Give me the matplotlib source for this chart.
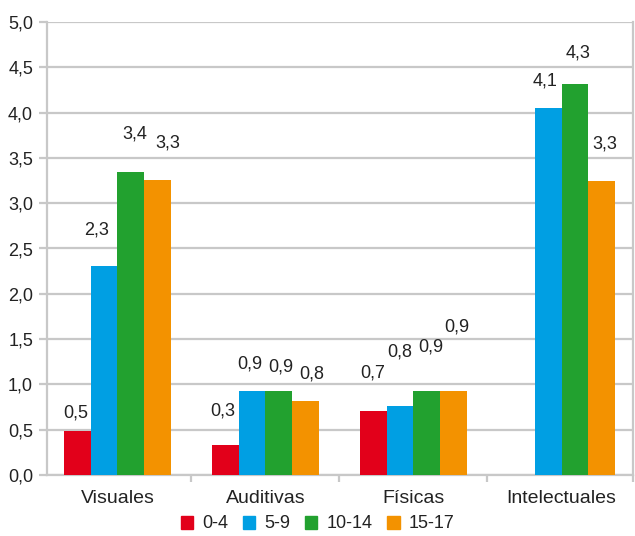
import numpy as np
import matplotlib
matplotlib.use("Agg")
import matplotlib.pyplot as plt
from matplotlib.ticker import FuncFormatter, FixedLocator
import matplotlib.patches as mpatches

# Data
categories = ["Visuales", "Auditivas", "Físicas", "Intelectuales"]
series = ["0-4", "5-9", "10-14", "15-17"]
v_0_4 = [0.49, 0.33, 0.71, None]
v_5_9 = [2.31, 0.93, 0.76, 4.05]
v_10_14 = [3.34, 0.93, 0.93, 4.32]
v_15_17 = [3.26, 0.82, 0.93, 3.25]
labels_0_4 = ["0,5", "0,3", "0,7", None]
labels_5_9 = ["2,3", "0,9", "0,8", "4,1"]
labels_10_14 = ["3,4", "0,9", "0,9", "4,3"]
labels_15_17 = ["3,3", "0,8", "0,9", "3,3"]

# label offsets (pixels) from the top centre of each bar, as hand-placed in the original
offsets_0_4 = [(-1.5, 18), (-3, 34), (-1, 38), None]
offsets_5_9 = [(-7, 36), (-2, 27), (0, 54), (-3.5, 27)]
offsets_10_14 = [(4, 38), (1.5, 24), (3.5, 44), (3, 31)]
offsets_15_17 = [(10, 37), (6.5, 27), (3.5, 64), (3, 37)]

colors = ["#e2001a", "#009fe3", "#22a12f", "#f39200"]
grid_col = "#c8c8c8"
text_col = "#222222"
font = ["Liberation Sans", "DejaVu Sans"]

plt.rcParams["font.family"] = font

values = [v_0_4, v_5_9, v_10_14, v_15_17]
labels = [labels_0_4, labels_5_9, labels_10_14, labels_15_17]
offsets = [offsets_0_4, offsets_5_9, offsets_10_14, offsets_15_17]

fig = plt.figure(figsize=(6.35, 5.36), dpi=100)
ax = fig.add_axes([47 / 635, 61 / 536, 586 / 635, 453 / 536])

x = np.arange(len(categories))
width = 0.181

for i, (vals, labs, offs) in enumerate(zip(values, labels, offsets)):
    xs = x + (i - 1.5) * width
    for xi, v, lab, off in zip(xs, vals, labs, offs):
        if v is None:
            continue
        ax.bar(xi, v, width=width, color=colors[i], edgecolor="none", zorder=3)
        ax.annotate(lab, (xi, v), xytext=off, textcoords="offset pixels",
                    ha="center", va="center", fontsize=13, color=text_col,
                    zorder=4)

ax.set_ylim(0, 5.0)
ax.set_xlim(-0.476, 3.483)
ax.set_yticks(np.arange(0, 5.01, 0.5))
ax.yaxis.set_major_formatter(FuncFormatter(lambda v, p: f"{v:.1f}".replace(".", ",")))
ax.grid(axis="y", color=grid_col, linewidth=1.6, zorder=0)
ax.set_axisbelow(True)

ax.set_xticks(x)
ax.set_xticklabels(categories)
ax.xaxis.set_minor_locator(FixedLocator([0.5, 1.5, 2.5, 3.483]))
ax.tick_params(axis="x", which="major", length=0, pad=11, labelsize=14,
               labelcolor=text_col)
ax.tick_params(axis="x", which="minor", length=5, width=1.6, color=grid_col)
ax.tick_params(axis="y", length=6, width=1.6, color=grid_col, pad=4,
               labelsize=13, labelcolor=text_col)

for side in ["left", "bottom", "right"]:
    ax.spines[side].set_color(grid_col)
    ax.spines[side].set_linewidth(1.6)
ax.spines["top"].set_visible(False)

handles = [mpatches.Patch(color=c, label=s) for c, s in zip(colors, series)]
fig.legend(handles=handles, loc="center", bbox_to_anchor=(0.5, 12 / 536),
           ncol=4, frameon=False, fontsize=13, handlelength=0.7,
           handleheight=0.7, handletextpad=0.5, columnspacing=0.8,
           borderpad=0, labelcolor=text_col)

fig.savefig("out.png", dpi=100, facecolor="white")
